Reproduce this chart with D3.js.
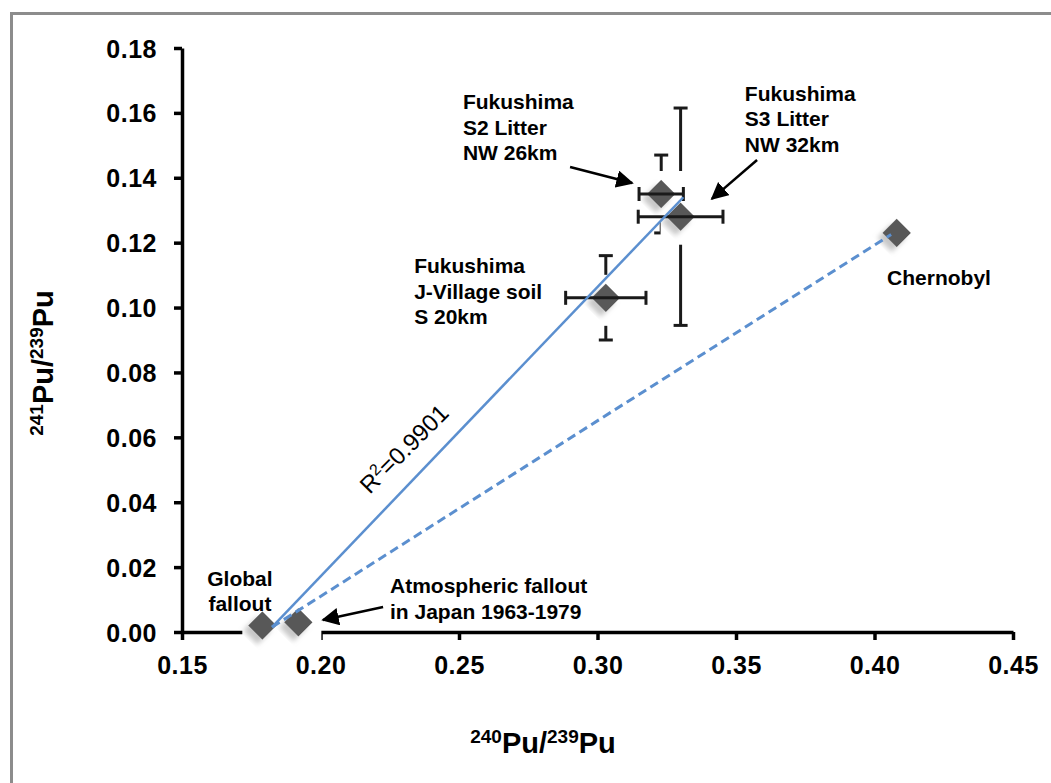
<!DOCTYPE html>
<html>
<head>
<meta charset="utf-8">
<script src="https://cdn.jsdelivr.net/npm/d3@7"></script>
<style>
  body { margin: 0; background: #fff; }
  text { font-family: "Liberation Sans", Arial, sans-serif; }
</style>
</head>
<body>
<div id="svganchor"></div>
<script>
let width = 1051;
let height = 783;

// Data
let names = ["Global fallout", "Atmospheric fallout Japan", "J-Village soil", "S2 Litter", "S3 Litter", "Chernobyl"];
let ratio240 = [0.179, 0.192, 0.303, 0.323, 0.330, 0.408];
let ratio241 = [0.002, 0.003, 0.103, 0.135, 0.128, 0.123];
let err240 = [0, 0, 0.0145, 0.008, 0.0153, 0];
let err241 = [0, 0, 0.013, 0.012, 0.0335, 0.0062];

let xTicks = [0.15, 0.20, 0.25, 0.30, 0.35, 0.40, 0.45];
let yTicks = [0.00, 0.02, 0.04, 0.06, 0.08, 0.10, 0.12, 0.14, 0.16, 0.18];

// trendlines: solid = Fukushima fit, dashed = to Chernobyl
let solidFit = [[0.1825, 0.0015], [0.331, 0.134]];
let dashedFit = [[0.1825, 0.0015], [0.406, 0.1225]];

// labels: [x, y of first line, anchor, lines]
let labels = [
    [0.1709, 0.0143, "middle", ["Global", "fallout"]],
    [0.2251, 0.0119, "start", ["Atmospheric fallout", "in Japan 1963-1979"]],
    [0.2338, 0.1105, "start", ["Fukushima", "J-Village soil", "S 20km"]],
    [0.2514, 0.1611, "start", ["Fukushima", "S2 Litter", "NW 26km"]],
    [0.3532, 0.1638, "start", ["Fukushima", "S3 Litter", "NW 32km"]],
    [0.4233, 0.1068, "middle", ["Chernobyl"]]
];

// arrows: [fromX, fromY, toX, toY]
let arrows = [
    [0.2901, 0.1433, 0.3125, 0.1384],
    [0.3576, 0.1455, 0.3413, 0.1335],
    [0.2226, 0.0077, 0.2009, 0.0037]
];

let points = names.map((n, i) => ({
    name: n, x: ratio240[i], y: ratio241[i], ex: err240[i], ey: err241[i]
}));

let svg = d3.select("#svganchor").append("svg")
    .attr("width", width)
    .attr("height", height);

let defs = svg.append("defs");
let shadow = defs.append("filter").attr("id", "shadow")
    .attr("x", "-50%").attr("y", "-50%").attr("width", "200%").attr("height", "200%");
shadow.append("feDropShadow")
    .attr("dx", 0).attr("dy", 7).attr("stdDeviation", 2.5)
    .attr("flood-color", "#9a9a9a").attr("flood-opacity", 0.55);

defs.append("marker").attr("id", "arrow")
    .attr("viewBox", "0 0 10 10")
    .attr("refX", 9).attr("refY", 5)
    .attr("markerWidth", 7).attr("markerHeight", 7)
    .attr("markerUnits", "strokeWidth")
    .attr("orient", "auto")
    .append("path").attr("d", "M0,0 L10,5 L0,10 Z").attr("fill", "#000");

// outer frame (image is cropped on right and bottom)
svg.append("rect")
    .attr("x", 11.5).attr("y", 13.5)
    .attr("width", width + 20).attr("height", height + 20)
    .attr("fill", "none").attr("stroke", "#8c8c8c").attr("stroke-width", 3);

let xScale = d3.scaleLinear().domain([0.15, 0.45]).range([182, 1013]);
let yScale = d3.scaleLinear().domain([0, 0.18]).range([632, 48]);

let xAxis = svg.append("g")
    .attr("transform", "translate(0," + yScale(0) + ")")
    .call(d3.axisBottom(xScale).tickValues(xTicks).tickFormat(d3.format(".2f")).tickSize(8).tickSizeOuter(0).tickPadding(16));

let yAxis = svg.append("g")
    .attr("transform", "translate(" + xScale(0.15) + ",0)")
    .call(d3.axisLeft(yScale).tickValues(yTicks).tickFormat(d3.format(".2f")).tickSize(8).tickSizeOuter(0).tickPadding(17));

[xAxis, yAxis].forEach(g => {
    g.select(".domain").attr("stroke", "#000").attr("stroke-width", 3.5);
    g.selectAll(".tick line").attr("stroke", "#000").attr("stroke-width", 3.5);
    g.selectAll(".tick text")
        .attr("fill", "#000")
        .style("font-size", "25px")
        .style("font-weight", "bold")
        .style("letter-spacing", "0.5px")
        .style("font-family", "'Liberation Sans', Arial, sans-serif");
});
yAxis.selectAll(".tick text").attr("dy", "0.36em");

// vertical error bars (partly hidden by the marker halos)
let capW = 7;
let vBars = svg.append("g").attr("stroke", "#1a1a1a").attr("stroke-width", 3);
points.filter(d => d.ey > 0).forEach(d => {
    let x = xScale(d.x), y0 = yScale(d.y - d.ey), y1 = yScale(d.y + d.ey);
    vBars.append("line").attr("x1", x).attr("x2", x).attr("y1", y0).attr("y2", y1);
    vBars.append("line").attr("x1", x - capW).attr("x2", x + capW).attr("y1", y0).attr("y2", y0);
    vBars.append("line").attr("x1", x - capW).attr("x2", x + capW).attr("y1", y1).attr("y2", y1);
});

// white halo behind each marker
svg.append("g").selectAll("rect")
    .data(points)
    .join("rect")
    .attr("x", d => xScale(d.x) - 20)
    .attr("y", d => yScale(d.y) - 23)
    .attr("width", 43)
    .attr("height", 51)
    .attr("fill", "#fff");

// markers
svg.append("g").selectAll("path")
    .data(points)
    .join("path")
    .attr("d", d3.symbol(d3.symbolSquare, 400))
    .attr("transform", d => "translate(" + xScale(d.x) + "," + yScale(d.y) + ") rotate(45)")
    .attr("fill", "#595959")
    .attr("filter", "url(#shadow)");

// horizontal error bars
let hBars = svg.append("g").attr("stroke", "#1a1a1a").attr("stroke-width", 3);
points.filter(d => d.ex > 0).forEach(d => {
    let y = yScale(d.y), x0 = xScale(d.x - d.ex), x1 = xScale(d.x + d.ex);
    hBars.append("line").attr("x1", x0).attr("x2", x1).attr("y1", y).attr("y2", y);
    hBars.append("line").attr("x1", x0).attr("x2", x0).attr("y1", y - capW).attr("y2", y + capW);
    hBars.append("line").attr("x1", x1).attr("x2", x1).attr("y1", y - capW).attr("y2", y + capW);
});

// trend lines
let line = d3.line().x(d => xScale(d[0])).y(d => yScale(d[1]));
svg.append("path").datum(solidFit)
    .attr("d", line).attr("fill", "none")
    .attr("stroke", "#5b8fcf").attr("stroke-width", 2.5);
svg.append("path").datum(dashedFit)
    .attr("d", line).attr("fill", "none")
    .attr("stroke", "#5b8fcf").attr("stroke-width", 3)
    .attr("stroke-dasharray", "9,5");

// R² label along the fit line
let r2 = svg.append("text")
    .attr("transform", "translate(" + xScale(0.2323) + "," + yScale(0.0546) + ") rotate(-45)")
    .attr("text-anchor", "middle")
    .style("font-size", "24px")
    .attr("fill", "#000");
r2.append("tspan").text("R");
r2.append("tspan").attr("dy", -9).style("font-size", "16px").text("2");
r2.append("tspan").attr("dy", 9).text("=0.9901");

// point labels
labels.forEach(l => {
    let t = svg.append("text")
        .attr("x", xScale(l[0]))
        .attr("y", yScale(l[1]))
        .attr("text-anchor", l[2])
        .style("font-size", "21px")
        .style("font-weight", "bold")
        .attr("fill", "#000");
    l[3].forEach((s, i) => {
        t.append("tspan").attr("x", xScale(l[0])).attr("dy", i === 0 ? 0 : 25.5).text(s);
    });
});

// arrows
svg.append("g").selectAll("line")
    .data(arrows)
    .join("line")
    .attr("x1", d => xScale(d[0])).attr("y1", d => yScale(d[1]))
    .attr("x2", d => xScale(d[2])).attr("y2", d => yScale(d[3]))
    .attr("stroke", "#000").attr("stroke-width", 2.5)
    .attr("marker-end", "url(#arrow)");

// axis titles
function isoTitle(sel, a, b) {
    sel.style("font-weight", "bold").attr("fill", "#000");
    sel.append("tspan").style("font-size", "19px").attr("dy", -10).text(a);
    sel.append("tspan").style("font-size", "29px").attr("dy", 10).text("Pu/");
    sel.append("tspan").style("font-size", "19px").attr("dy", -10).text(b);
    sel.append("tspan").style("font-size", "29px").attr("dy", 10).text("Pu");
}

svg.append("text")
    .attr("x", 543).attr("y", 753)
    .attr("text-anchor", "middle")
    .call(isoTitle, "240", "239");

svg.append("text")
    .attr("transform", "translate(53,363) rotate(-90)")
    .attr("text-anchor", "middle")
    .call(isoTitle, "241", "239");
</script>
</body>
</html>
